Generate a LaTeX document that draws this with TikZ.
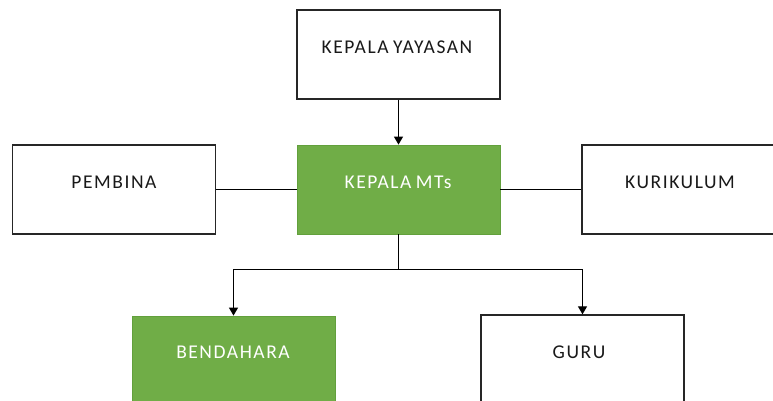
\documentclass[tikz,border=0pt]{standalone}
\usepackage{fontspec}
\setmainfont[LetterSpace=8,WordSpace=0.75]{Carlito}
\usetikzlibrary{arrows.meta,calc}
\definecolor{grn}{HTML}{70AD47}
\definecolor{grnb}{HTML}{62A03C}
\tikzset{
  box/.style={draw=black!85, line width=1.3pt, fill=white, minimum width=203pt, minimum height=89pt, inner sep=0pt},
  gbox/.style={draw=grnb, line width=0.8pt, fill=grn, minimum width=203pt, minimum height=89pt, inner sep=0pt},
  txt/.style={font=\fontsize{19.5}{22}\selectfont, text=black!90, inner sep=0pt},
  wtxt/.style={font=\fontsize{19.5}{22}\selectfont, text=white, inner sep=0pt},
  conn/.style={draw=black, line width=1.2pt},
  arr/.style={conn, -{Triangle[width=9pt,length=8pt]}}
}
\begin{document}
\begin{tikzpicture}[x=1pt,y=1pt]
\useasboundingbox (0,0) rectangle (773,400);
\clip (0,0) rectangle (773,400);
\node[box] (yay) at (398.5,345.5) {};
\node[gbox] (mts) at (398.5,210.5) {};
\node[box] (pem) at (114,210.5) {};
\node[box] (kur) at (683.5,210.5) {};
\node[gbox] (ben) at (233.5,39.5) {};
\node[box] (guru) at (582.5,40.5) {};
\node[txt] (tyay) at (397,353) {KEPALA YAYASAN};
\node[wtxt] (tmts) at (398,218) {KEPALA MTs};
\node[txt] (tpem) at (114,218) {PEMBINA};
\node[txt] (tkur) at (680,218) {KURIKULUM};
\node[wtxt] (tben) at (233,48) {BENDAHARA};
\node[txt] (tguru) at (579,48) {GURU};
\draw[arr] (yay.south) -- (mts.north);
\draw[conn] (pem.east) -- (mts.west);
\draw[conn] (mts.east) -- (kur.west);
\coordinate (split) at ($(mts.south)+(0,-35)$);
\draw[conn] (mts.south) -- (split);
\draw[arr] (split) -| (ben.north);
\draw[arr] (split) -| (guru.north);
\end{tikzpicture}
\end{document}
